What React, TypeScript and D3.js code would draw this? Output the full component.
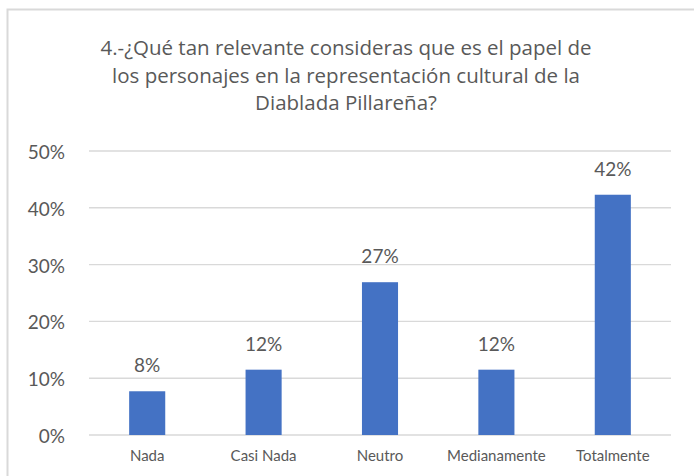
import React from "react";
import * as d3 from "d3";

const categories = ["Nada", "Casi Nada", "Neutro", "Medianamente", "Totalmente"];
const values = [7.7, 11.5, 26.9, 11.5, 42.3];
const valueLabels = ["8%", "12%", "27%", "12%", "42%"];
const yTicks = [0, 10, 20, 30, 40, 50];
const titleLines = [
  "4.-¿Qué tan relevante consideras que es el papel de",
  "los personajes en la representación cultural de la",
  "Diablada Pillareña?",
];

const W = 694;
const H = 476;
const FONT = "Lato, 'Open Sans', sans-serif";
const TITLE_FONT = "'Open Sans', Lato, sans-serif";
const TEXT = "#595959";

export default function App() {
  const x = d3.scaleBand<string>().domain(categories).range([89, 671]).paddingInner(0.69).paddingOuter(0.345);
  const y = d3.scaleLinear().domain([0, 50]).range([435, 151]);

  return (
    <svg width={W} height={H} style={{ position: "absolute", left: 0, top: 0, background: "#fff" }} fontFamily={FONT}>
      <rect x={0} y={0} width={W} height={H} fill="#fff" />
      <rect x={7.5} y={9.5} width={W + 20} height={H + 20} fill="none" stroke="#d9d9d9" strokeWidth={2} />
      {titleLines.map((t, i) => (
        <text key={i} x={346} y={55 + i * 27.7} textAnchor="middle" fontSize={20.5} fill={TEXT} fontFamily={TITLE_FONT}>
          {t}
        </text>
      ))}
      {yTicks.map((t) => (
        <g key={t}>
          <line x1={89} x2={671} y1={y(t)} y2={y(t)} stroke="#d9d9d9" strokeWidth={1.4} />
          <text x={65} y={y(t) + 8} textAnchor="end" fontSize={19} fill={TEXT}>
            {t}%
          </text>
        </g>
      ))}
      {categories.map((c, i) => (
        <g key={c}>
          <rect x={x(c)!} y={y(values[i])} width={x.bandwidth()} height={y(0) - y(values[i])} fill="#4472C4" />
          <text x={x(c)! + x.bandwidth() / 2} y={y(values[i]) - 19} textAnchor="middle" fontSize={19} fill={TEXT}>
            {valueLabels[i]}
          </text>
          <text x={x(c)! + x.bandwidth() / 2} y={461} textAnchor="middle" fontSize={15} fill={TEXT}>
            {c}
          </text>
        </g>
      ))}
    </svg>
  );
}
